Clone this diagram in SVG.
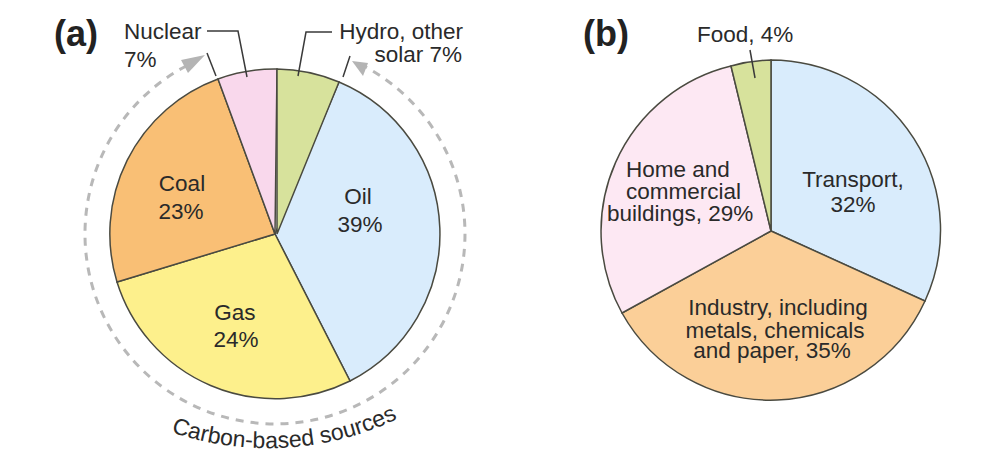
<svg xmlns="http://www.w3.org/2000/svg" width="989" height="455" viewBox="0 0 989 455">
<style>
text{font-family:"Liberation Sans",Arial,sans-serif;font-size:22.5px;fill:#2a2a2a}
.h{font-size:36px;font-weight:bold;fill:#222}
.m{text-anchor:middle}
.e{text-anchor:end}
.s{stroke:#4a4a40;stroke-width:1.5}
.l{fill:none;stroke:#3a3a3a;stroke-width:1.5}
.d{fill:none;stroke:#b8b8b8;stroke-width:3;stroke-dasharray:8 7}
.a{fill:#b4b4b4}
</style>
<defs><path id="tp" d="M118 408A300 300 0 0 0 418 408"/></defs>
<rect width="989" height="455" fill="#fff"/>
<text class="h" x="54" y="46">(a)</text>
<text class="h" x="583" y="46">(b)</text>
<g id="pie-a">
<g id="oil"><path class="s" d="M275 234L339 82A165 165 0 0 1 350 381Z" fill="#d9ecfc"/><text class="m" x="358" y="204">Oil</text><text class="m" x="360" y="232">39%</text></g>
<g id="gas"><path class="s" d="M275 234L350 381A166 166 0 0 1 117 282Z" fill="#fdf08c"/><text class="m" x="235" y="320">Gas</text><text class="m" x="236" y="347">24%</text></g>
<g id="coal"><path class="s" d="M275 234L117 282A165 165 0 0 1 218 79Z" fill="#f9bf75"/><text class="m" x="182" y="191">Coal</text><text class="m" x="181" y="219">23%</text></g>
<g id="nuclear"><path class="s" d="M275 234L218 79A165 165 0 0 1 277 69Z" fill="#f9d8ec"/><text x="124" y="39">Nuclear</text><text x="124" y="67">7%</text></g>
<g id="hydro"><path class="s" d="M277 234V69A165 165 0 0 1 339 82Z" fill="#d7e29c"/><text class="e" x="463" y="39">Hydro, other</text><text class="e" x="462" y="62">solar 7%</text></g>
</g>
<g id="pie-b">
<g id="transport"><path class="s" d="M771 231V60A170 170 0 0 1 925 301Z" fill="#d9ecfc"/><text class="m" x="853" y="187">Transport,</text><text class="m" x="853" y="212">32%</text></g>
<g id="industry"><path class="s" d="M771 231L925 301A170 170 0 0 1 622 313Z" fill="#fbcf98"/><text class="m" x="778" y="315">Industry, including</text><text class="m" x="775" y="338">metals, chemicals</text><text class="m" x="772" y="358">and paper, 35%</text></g>
<g id="home"><path class="s" d="M771 231L622 313A170 170 0 0 1 731 66Z" fill="#fde8f3"/><text x="626" y="177">Home and</text><text x="626" y="199">commercial</text><text x="607" y="221">buildings, 29%</text></g>
<g id="food"><path class="s" d="M771 231L731 66A170 170 0 0 1 771 60Z" fill="#d7e29c"/><text x="697" y="42">Food, 4%</text></g>
</g>
<g id="connectors">
<path class="d" d="M360 64A190 190 0 1 1 188 65"/>
<path class="a" d="M205 55L181 60L188 73Z"/>
<path class="a" d="M352 61L368 63L363 76Z"/>
<path class="l" d="M207 31H238L247 77"/>
<path class="l" d="M332 32H306L298 76"/>
<path class="l" d="M207 53L216 76"/>
<path class="l" d="M350 56L343 77"/>
<path class="l" d="M750 50L755 78"/>
</g>
<g id="carbon-label"><text style="font-size:23px"><textPath href="#tp" startOffset="55.6%" text-anchor="middle">Carbon-based sources</textPath></text></g>
</svg>
